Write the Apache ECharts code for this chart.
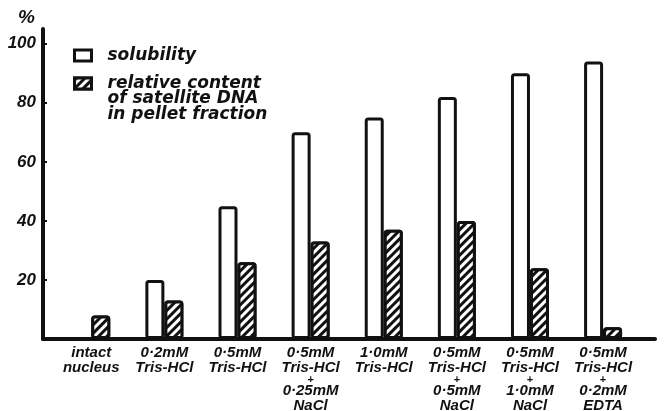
<!DOCTYPE html>
<html>
<head>
<meta charset="utf-8">
<script src="https://cdn.jsdelivr.net/npm/echarts@6/dist/echarts.min.js"></script>
<style>
  html, body { margin: 0; padding: 0; background: #fff; }
  #chart { width: 668px; height: 411px; }
</style>
</head>
<body>
<div id="chart"></div>
<script>
// Treatment conditions along the x axis ('+' marks a combined buffer)
const categories = [
  'intact\nnucleus',
  '0·2mM\nTris-HCl',
  '0·5mM\nTris-HCl',
  '0·5mM\nTris-HCl\n+\n0·25mM\nNaCl',
  '1·0mM\nTris-HCl',
  '0·5mM\nTris-HCl\n+\n0·5mM\nNaCl',
  '0·5mM\nTris-HCl\n+\n1·0mM\nNaCl',
  '0·5mM\nTris-HCl\n+\n0·2mM\nEDTA'
];
// Solubility of chromatin (%); not measured for the intact nucleus
const solubility = [null, 20, 45, 70, 75, 82, 90, 94];
// Relative content of satellite DNA in the pellet fraction (%)
const satelliteDNA = [8, 13, 26, 33, 37, 40, 24, 4];

const seriesNames = ['solubility', 'relative content\nof satellite DNA\nin pellet fraction'];

const INK = '#111';
const narrowFont = "'Liberation Sans Narrow', 'Liberation Sans', Arial, sans-serif";
const wideFont = "'DejaVu Sans', Verdana, sans-serif";

const hatch = {
  symbol: 'rect',
  symbolSize: 1,
  color: INK,
  backgroundColor: '#fff',
  dashArrayX: [1, 0],
  dashArrayY: [3, 3],
  rotation: -Math.PI / 4
};

const legendText = {
  fontFamily: wideFont, fontSize: 17, fontWeight: 'bold', fontStyle: 'italic',
  color: INK, lineHeight: 15.5
};

const chart = echarts.init(document.getElementById('chart'), null, { renderer: 'canvas' });

const catIdx = categories.map((_, i) => i);

chart.setOption({
  animation: false,
  backgroundColor: '#fff',
  grid: { left: 43, right: 13, top: 29, bottom: 72, containLabel: false, outerBoundsMode: 'none' },
  legend: [
    {
      orient: 'vertical',
      left: 73, top: 47,
      padding: 0,
      itemWidth: 17, itemHeight: 11,
      itemGap: 0,
      icon: 'rect',
      itemStyle: { borderWidth: 3, borderColor: INK, color: '#fff' },
      selectedMode: false,
      textStyle: Object.assign({}, legendText, { padding: [0, 0, 0, 11] }),
      data: [seriesNames[0]]
    },
    {
      orient: 'vertical',
      left: 73, top: 44,
      padding: 0,
      itemWidth: 17, itemHeight: 11,
      icon: 'rect',
      itemStyle: { borderWidth: 3, borderColor: INK, color: INK },
      selectedMode: false,
      textStyle: Object.assign({}, legendText, { padding: [0, 0, 0, 11] }),
      // two blank lines above keep the first text line level with the swatch
      formatter: function (name) { return ' \n \n' + name; },
      data: [seriesNames[1]]
    }
  ],
  xAxis: {
    type: 'value',
    min: -0.66,
    max: 7.71,
    splitLine: { show: false },
    axisTick: { show: false },
    axisLine: { onZero: true, lineStyle: { color: INK, width: 4 } },
    axisLabel: {
      customValues: catIdx,
      margin: 7,
      verticalAlign: 'top',
      formatter: function (v) {
        const label = categories[Math.round(v)];
        if (label === undefined) return '';
        return label.split('\n').map(function (line) {
          return line === '+' ? '{p|+}' : '{t|' + line + '}';
        }).join('\n');
      },
      rich: {
        t: {
          fontFamily: narrowFont, fontSize: 15, fontWeight: 'bold', fontStyle: 'italic',
          color: INK, lineHeight: 14.5, align: 'center'
        },
        p: {
          fontFamily: narrowFont, fontSize: 11, fontWeight: 'bold',
          color: INK, lineHeight: 9, align: 'center'
        }
      }
    }
  },
  yAxis: {
    type: 'value',
    min: 0,
    max: 105,
    interval: 20,
    name: '%',
    nameLocation: 'end',
    nameGap: 2,
    nameTextStyle: {
      fontFamily: narrowFont, fontSize: 19, fontWeight: 'bold', fontStyle: 'italic',
      color: INK, align: 'right', padding: [0, 8, 0, 0]
    },
    splitLine: { show: false },
    axisLine: { show: true, onZero: false, lineStyle: { color: INK, width: 4 } },
    axisTick: { show: true, inside: true, length: 4, lineStyle: { color: INK, width: 2 } },
    axisLabel: {
      margin: 7,
      fontFamily: narrowFont, fontSize: 17, fontWeight: 'bold', fontStyle: 'italic',
      color: INK,
      formatter: function (v) { return v === 0 ? '' : String(v); }
    }
  },
  series: [
    {
      name: seriesNames[0],
      type: 'bar',
      barWidth: 19,
      barGap: '0%',
      itemStyle: { color: '#fff', borderColor: INK, borderWidth: 3, borderRadius: 2 },
      data: catIdx.map(i => [i, solubility[i]])
    },
    {
      name: seriesNames[1],
      type: 'bar',
      barWidth: 19,
      barGap: '0%',
      itemStyle: { color: '#fff', borderColor: INK, borderWidth: 3, borderRadius: 2, decal: hatch },
      data: catIdx.map(i => [i, satelliteDNA[i]])
    }
  ]
});
</script>
</body>
</html>
